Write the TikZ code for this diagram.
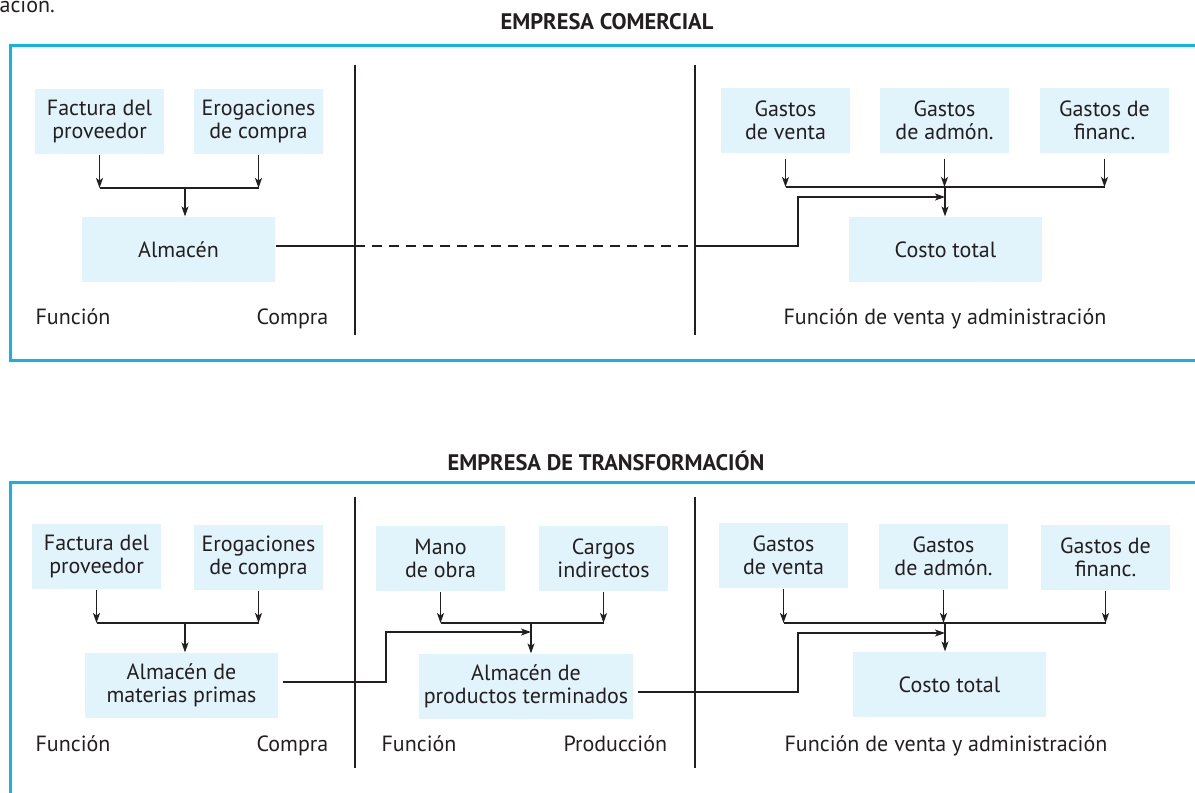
\documentclass[tikz,border=0pt]{standalone}
\usepackage{fontspec}
\setmainfont{PT Sans}
\usetikzlibrary{arrows.meta}
\definecolor{cian}{HTML}{14B1EA}
\definecolor{celeste}{HTML}{E1F3FB}
\definecolor{tinta}{HTML}{231F20}
\newcommand{\cuerpo}{\fontsize{22}{23.5}\selectfont}
\begin{document}
\begin{tikzpicture}[x=1pt,y=-1pt,color=tinta,line width=1.2pt,
  caja/.style={fill=celeste,minimum width=129pt,minimum height=65pt,inner sep=0pt,align=center,font=\cuerpo},
  texto/.style={inner sep=0pt,font=\cuerpo},
  titulo/.style={inner sep=0pt,font=\fontsize{22.5}{24}\selectfont\bfseries},
  marco/.style={draw=cian,line width=3pt},
  flecha/.style={-{Stealth[length=10pt,width=7pt,inset=2.5pt]}}]
\clip (0,0) rectangle (1195,793);
\node[texto,anchor=base west] (resto) at (-1,12) {ación.};
% empresa comercial
\node[titulo] (tit1) at (607,22) {EMPRESA COMERCIAL};
\draw[marco] (10,45) rectangle (1215,360);
\draw (355,65) -- (355,335);
\draw (695,65) -- (695,335);
\coordinate (d1) at (355,0);
\coordinate (d2) at (695,0);
\node[caja] (fac1) at (99.5,121.5) {Factura del\\proveedor};
\node[caja] (ero1) at (258.5,121.5) {Erogaciones\\de compra};
\node[caja,minimum width=193pt] (alm1) at (178.5,249.5) {Almacén};
\coordinate (j1) at (185,188);
\foreach \n in {fac1,ero1}
  \draw[flecha] (\n.south) -- (\n.south |- j1);
\draw (fac1.south |- j1) -- (ero1.south |- j1);
\draw[flecha] (j1) -- (j1 |- alm1.north);
\node[caja] (gv1) at (785.5,120.5) {Gastos\\de venta};
\node[caja] (ga1) at (944.5,120.5) {Gastos\\de admón.};
\node[caja] (gf1) at (1104.5,120.5) {Gastos de\\financ.};
\node[caja,minimum width=193pt] (cos1) at (945.5,249.5) {Costo total};
\coordinate (j2) at (945,187);
\foreach \n in {gv1,ga1,gf1}
  \draw[flecha,shorten <=5pt] (\n.south) -- (\n.south |- j2);
\draw (gv1.south |- j2) -- (gf1.south |- j2);
\draw[flecha] (j2) -- (j2 |- cos1.north);
\coordinate (q1) at (798,197);
\draw ([yshift=3.5pt]alm1.east) -- ([yshift=3.5pt]alm1.east -| d1);
\draw[dashed,dash pattern=on 10pt off 7pt] ([yshift=3.5pt]alm1.east -| d1) -- ([yshift=3.5pt]alm1.east -| d2);
\draw[flecha] ([yshift=3.5pt]alm1.east -| d2) -| (q1) -- (q1 -| j2);
\node[texto,anchor=base west] (fun1) at (35,324) {Función};
\node[texto,anchor=base west] (com1) at (256,324) {Compra};
\node[texto,anchor=base] (fva1) at (945,324) {Función de venta y administración};
% empresa de transformacion
\node[titulo] (tit2) at (606,461) {EMPRESA DE TRANSFORMACIÓN};
\draw[marco] (10,482) rectangle (1215,830);
\draw (355,497) -- (355,768);
\draw (695,497) -- (695,768);
\node[caja] (fac2) at (96.5,556.5) {Factura del\\proveedor};
\node[caja] (ero2) at (258.5,557.5) {Erogaciones\\de compra};
\node[caja,minimum width=193pt] (alm2) at (181.5,685.5) {Almacén de\\materias primas};
\coordinate (j3) at (185,623);
\foreach \n in {fac2,ero2}
  \draw[flecha] (\n.south) -- (\n.south |- j3);
\draw (fac2.south |- j3) -- (ero2.south |- j3);
\draw[flecha] (j3) -- (j3 |- alm2.north);
\node[caja] (man2) at (440.5,558.5) {Mano\\de obra};
\node[caja] (car2) at (603.5,558.5) {Cargos\\indirectos};
\node[caja,minimum width=214pt] (apt2) at (526,686.5) {Almacén de\\productos terminados};
\coordinate (j4) at (531,623);
\foreach \n in {man2,car2}
  \draw[flecha] (\n.south) -- (\n.south |- j4);
\draw (man2.south |- j4) -- (car2.south |- j4);
\draw[flecha] (j4) -- (j4 |- apt2.north);
\coordinate (q2) at (386,632);
\draw[flecha] ([xshift=4pt,yshift=3.5pt]alm2.east) -| (q2) -- (q2 -| j4);
\node[caja] (gv2) at (783.5,555.5) {Gastos\\de venta};
\node[caja] (ga2) at (943.5,556.5) {Gastos\\de admón.};
\node[caja] (gf2) at (1105.5,557.5) {Gastos de\\financ.};
\node[caja,minimum width=193pt] (cos2) at (949.5,684.5) {Costo total};
\coordinate (j5) at (945,623);
\foreach \n in {gv2,ga2,gf2}
  \draw[flecha] (\n.south) -- (\n.south |- j5);
\draw (gv2.south |- j5) -- (gf2.south |- j5);
\draw[flecha] (j5) -- (j5 |- cos2.north);
\coordinate (q3) at (798,633);
\draw[flecha] ([xshift=4pt,yshift=-5.5pt]apt2.east) -| (q3) -- (q3 -| j5);
\node[texto,anchor=base west] (fun2) at (35,751) {Función};
\node[texto,anchor=base west] (com2) at (256,751) {Compra};
\node[texto,anchor=base west] (fun3) at (381,751) {Función};
\node[texto,anchor=base west] (pro3) at (563,751) {Producción};
\node[texto,anchor=base] (fva2) at (946,751) {Función de venta y administración};
\end{tikzpicture}
\end{document}
